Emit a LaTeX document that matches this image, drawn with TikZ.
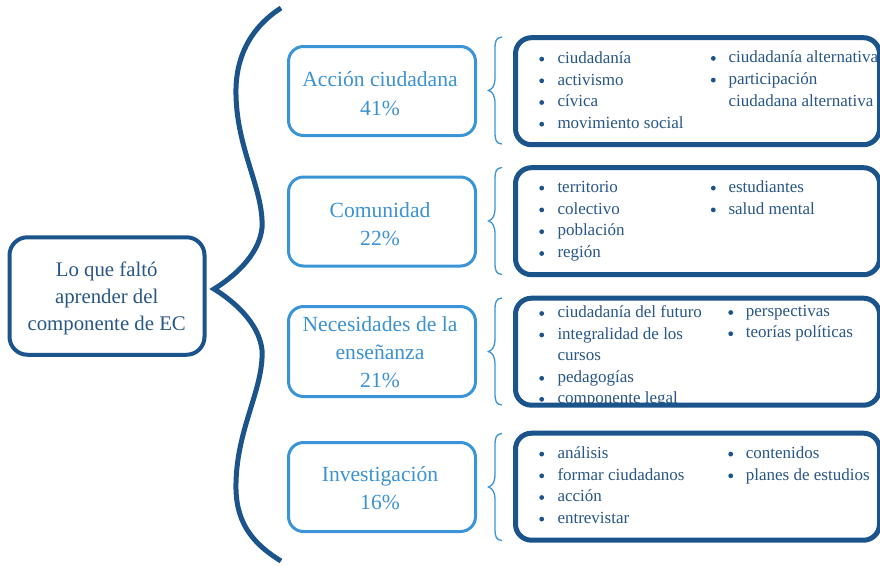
\documentclass[tikz,border=0pt]{standalone}
\usepackage{fontspec}
\setmainfont{Liberation Serif}
\definecolor{darkb}{RGB}{27,84,138}
\definecolor{lightb}{RGB}{58,148,213}
\definecolor{txtd}{RGB}{40,86,134}
\definecolor{txtl}{RGB}{60,146,210}
\tikzset{
 rootbox/.style={draw=darkb, line width=4pt, rounded corners=18pt, minimum width=195pt, minimum height=117.5pt, inner sep=0pt},
 catbox/.style={draw=lightb, line width=3pt, rounded corners=15pt, minimum width=187pt, minimum height=89pt, inner sep=0pt},
 listbox/.style={draw=darkb, line width=5pt, rounded corners=16pt, minimum width=364pt, minimum height=107pt, inner sep=0pt},
 roottxt/.style={anchor=base, inner sep=0pt, text=txtd, font=\fontsize{20.8}{25}\selectfont},
 cattxt/.style={anchor=base, inner sep=0pt, text=txtl, font=\fontsize{21.6}{26}\selectfont},
 itm/.style={anchor=base west, inner sep=0pt, text=txtd, font=\fontsize{17}{20}\selectfont},
 bul/.style={circle, fill=darkb, inner sep=0pt, minimum size=4.8pt},
 bigbrace/.style={draw=darkb, line width=5pt},
 smallbrace/.style={draw=lightb, line width=1.3pt},
}
\newcommand\mkitem[5]{%
 \node[bul] (#1b) at (#2,#4-4.2) {};
 \node[itm] (#1) at (#3,#4) {#5};}
\newcommand\sbrace[1]{\draw[smallbrace, shift={(0,#1)}] (502,0) .. controls (496,0.5) and (495,4) .. (495,12) -- (495,40) .. controls (495,48) and (493,52) .. (488.5,53.5) .. controls (493,55) and (495,59) .. (495,67) -- (495,95) .. controls (495,103) and (496,106.5) .. (502,107);}
\begin{document}
\begin{tikzpicture}[x=1pt,y=-1pt]
\useasboundingbox (0,0) rectangle (880,566);
\clip (0,0) rectangle (880,566);
\fill[white] (0,0) rectangle (880,566);

% root
\node[rootbox] (root) at (107,296) {};
\node[roottxt] (r1) at (106.7,276.5) {Lo que faltó};
\node[roottxt] (r2) at (106.7,303.2) {aprender del};
\node[roottxt] (r3) at (106.7,330) {componente de EC};

% big brace
\draw[bigbrace] (281,8) .. controls (250,28) and (235,58) .. (236,95) .. controls (237,150) and (264,190) .. (262,228) .. controls (259,256) and (232,278) .. (214,289) .. controls (232,300) and (259,322) .. (262,350) .. controls (264,388) and (237,428) .. (236,483) .. controls (235,520) and (250,542) .. (281,561);

% categories
\node[catbox] (c1) at (382,91) {};
\node[cattxt] (c1a) at (380,86.6) {Acción ciudadana};
\node[cattxt] (c1b) at (380,115) {41\%};
\node[catbox] (c2) at (382,221.5) {};
\node[cattxt] (c2a) at (380,217.2) {Comunidad};
\node[cattxt] (c2b) at (380,245.5) {22\%};
\node[catbox, minimum height=90pt] (c3) at (382,351.5) {};
\node[cattxt] (c3a) at (380,331.6) {Necesidades de la};
\node[cattxt] (c3b) at (380,359.6) {enseñanza};
\node[cattxt] (c3c) at (380,387.5) {21\%};
\node[catbox] (c4) at (382,487) {};
\node[cattxt] (c4a) at (380,481.6) {Investigación};
\node[cattxt] (c4b) at (380,509.5) {16\%};

% small braces
\sbrace{37}
\sbrace{167.5}
\sbrace{298}
\sbrace{433.5}

% box 1
\mkitem{a1}{541.7}{557.3}{63.3}{ciudadanía}
\mkitem{a2}{541.7}{557.3}{85}{activismo}
\mkitem{a3}{541.7}{557.3}{106.7}{cívica}
\mkitem{a4}{541.7}{557.3}{128.4}{movimiento social}
\mkitem{a5}{713.3}{728.3}{62.6}{ciudadanía alternativa}
\mkitem{a6}{713.3}{728.3}{84.3}{participación}
\node[itm] (a7) at (728.3,106) {ciudadana alternativa};

% box 2
\mkitem{b1}{541.7}{557.3}{192.3}{territorio}
\mkitem{b2}{541.7}{557.3}{214.1}{colectivo}
\mkitem{b3}{541.7}{557.3}{235.9}{población}
\mkitem{b4}{541.7}{557.3}{257.7}{región}
\mkitem{b5}{713.3}{728.3}{192.3}{estudiantes}
\mkitem{b6}{713.3}{728.3}{214.1}{salud mental}

% box 3
\mkitem{d1}{541.7}{557.3}{317.7}{ciudadanía del futuro}
\mkitem{d2}{541.7}{557.3}{339.2}{integralidad de los}
\node[itm] (d3) at (557.3,360.8) {cursos};
\mkitem{d4}{541.7}{557.3}{382.5}{pedagogías}
\mkitem{d5}{541.7}{557.3}{403.5}{componente legal}
\mkitem{d6}{730.7}{745.7}{316.7}{perspectivas}
\mkitem{d7}{730.7}{745.7}{337.9}{teorías políticas}

% box 4
\mkitem{e1}{541.7}{557.3}{458.3}{análisis}
\mkitem{e2}{541.7}{557.3}{480}{formar ciudadanos}
\mkitem{e3}{541.7}{557.3}{501.7}{acción}
\mkitem{e4}{541.7}{557.3}{523.3}{entrevistar}
\mkitem{e5}{730.7}{745.7}{458.3}{contenidos}
\mkitem{e6}{730.7}{745.7}{480}{planes de estudios}

% list boxes (drawn over the text, as in the original)
\node[listbox] (L1) at (697.5,91.2) {};
\node[listbox] (L2) at (697.5,221.2) {};
\node[listbox] (L3) at (697.5,351.7) {};
\node[listbox] (L4) at (697.5,486.7) {};
\end{tikzpicture}
\end{document}
